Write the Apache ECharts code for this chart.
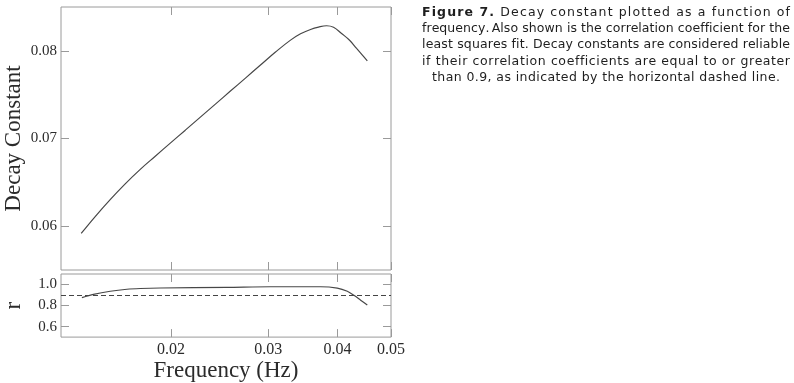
<!DOCTYPE html>
<html>
<head>
<meta charset="utf-8">
<script src="https://cdn.jsdelivr.net/npm/echarts@6/dist/echarts.min.js"></script>
<style>
  html, body { margin: 0; padding: 0; background: #fff; }
  #chart { width: 794px; height: 383px; }
</style>
</head>
<body>
<div id="chart"></div>
<script>
// values (frequency in Hz)
const freqDecay = [0.01376, 0.014586, 0.015526, 0.016528, 0.017598, 0.018732, 0.019942, 0.02123,
  0.022602, 0.024062, 0.025616, 0.027272, 0.029034, 0.030908, 0.032904, 0.034304,
  0.035762, 0.036976, 0.03823, 0.039358, 0.040694, 0.042076, 0.043324, 0.044422, 0.045302];
const decayConst = [0.05917, 0.0611, 0.06303, 0.06483, 0.06648, 0.06798, 0.06947, 0.07095,
  0.07244, 0.07392, 0.07541, 0.07689, 0.07838, 0.07986, 0.08122, 0.08194,
  0.08244, 0.08271, 0.08286, 0.08269, 0.08198, 0.08121, 0.08027, 0.07948, 0.07886];

const freqR = [0.0138, 0.01448, 0.01553, 0.01665, 0.0176, 0.01912, 0.02526, 0.03027, 0.0373,
  0.03997, 0.04168, 0.04284, 0.04406, 0.0453];
const rValues = [0.875, 0.906, 0.936, 0.955, 0.962, 0.967, 0.973, 0.979, 0.979,
  0.966, 0.936, 0.897, 0.851, 0.805];

const freqTicks = [0.02, 0.03, 0.04, 0.05];
const decayTicks = [0.06, 0.07, 0.08];
const rTicks = [0.6, 0.8, 1.0];
const rThreshold = 0.9;

const captionLines = [
  'Figure 7. Decay constant plotted as a function of',
  'frequency. Also shown is the correlation coefficient for the',
  'least squares fit. Decay constants are considered reliable',
  'if their correlation coefficients are equal to or greater',
  'than 0.9, as indicated by the horizontal dashed line.',
];
const captionBold = 'Figure 7.';

const SERIF = '"Liberation Serif", "Times New Roman", serif';
const SANS = '"DejaVu Sans", Verdana, sans-serif';
const FRAME = '#9a9a9a';
const INK = '#2b2b2b';
const CURVE = '#474747';

// the frequency axis is logarithmic: plot log10(f) on a value axis
const toLog = (f) => Math.log10(f);
const xMin = toLog(0.01265);
const xMax = toLog(0.05);
const pairs = (xs, ys) => xs.map((f, i) => [toLog(f), ys[i]]);

const tick = (values) => ({
  show: true,
  inside: true,
  length: 8,
  lineStyle: { color: FRAME, width: 1 },
  customValues: values,
});

const xAxisFor = (gridIndex, position, withLabels) => ({
  type: 'value',
  gridIndex,
  position,
  min: xMin,
  max: xMax,
  axisLine: { show: false },
  splitLine: { show: false },
  axisTick: tick(freqTicks.map(toLog)),
  axisLabel: {
    show: withLabels,
    customValues: freqTicks.map(toLog),
    formatter: (v) => Math.pow(10, v).toFixed(2),
    margin: 5,
    fontFamily: SERIF,
    fontSize: 16,
    color: INK,
  },
});

const yAxisFor = (gridIndex, position, range, ticks, digits, name) => ({
  type: 'value',
  gridIndex,
  position,
  min: range[0],
  max: range[1],
  name: name || '',
  nameLocation: 'middle',
  nameGap: 36,
  nameTextStyle: { fontFamily: SERIF, fontSize: 23, color: INK },
  axisLine: { show: false },
  splitLine: { show: false },
  axisTick: tick(ticks),
  axisLabel: {
    show: position === 'left',
    customValues: ticks,
    formatter: (v) => v.toFixed(digits),
    margin: 4,
    fontFamily: SERIF,
    fontSize: 15,
    color: INK,
  },
});

// caption: every line stretched to its box by spreading the letters
const CAPTION_SIZE = 12.5;
const measure = (() => {
  const ctx = document.createElement('canvas').getContext('2d');
  return (text, bold) => {
    if (!text) return 0;
    ctx.font = (bold ? 'bold ' : '') + CAPTION_SIZE + 'px ' + SANS;
    return ctx.measureText(text).width;
  };
})();

const captionChar = (ch, x, y, bold) => ({
  type: 'text',
  x,
  y,
  silent: true,
  style: {
    text: ch,
    fontFamily: SANS,
    fontSize: CAPTION_SIZE,
    fontWeight: bold ? 'bold' : 'normal',
    fill: '#1e1e1e',
    verticalAlign: 'middle',
    textVerticalAlign: 'middle',
  },
});

const buildCaption = () => {
  const boxes = [[422, 790], [422, 790], [422, 790], [422, 790], [432, 780]];
  const lineGap = 16.3;
  const top = 12.6;
  const els = [];
  captionLines.forEach((line, li) => {
    const y = top + li * lineGap;
    const boldLen = li === 0 ? captionBold.length : 0;
    const prefixWidth = (i) =>
      measure(line.slice(0, Math.min(i, boldLen)), true) +
      (i > boldLen ? measure(line.slice(boldLen, i), false) : 0);
    const natural = prefixWidth(line.length);
    const [left, right] = boxes[li];
    const spacing = (right - left - natural) / (line.length - 1);
    for (let i = 0; i < line.length; i++) {
      if (line[i] === ' ') continue;
      els.push(captionChar(line[i], left + prefixWidth(i) + i * spacing, y, i < boldLen));
    }
  });
  return els;
};

const chart = echarts.init(document.getElementById('chart'), null, { renderer: 'canvas' });

const option = {
  animation: false,
  backgroundColor: '#fff',
  grid: [
    { left: 61, top: 7, width: 330, height: 263, show: true, borderColor: FRAME, borderWidth: 1, backgroundColor: 'transparent' },
    { left: 61, top: 274, width: 330, height: 64, show: true, borderColor: FRAME, borderWidth: 1, backgroundColor: 'transparent' },
  ],
  xAxis: [
    xAxisFor(0, 'bottom', false),
    xAxisFor(0, 'top', false),
    Object.assign(xAxisFor(1, 'bottom', true), {
      name: 'Frequency (Hz)',
      nameLocation: 'middle',
      nameGap: 21,
      nameTextStyle: { fontFamily: SERIF, fontSize: 23, color: INK },
    }),
    xAxisFor(1, 'top', false),
  ],
  yAxis: [
    yAxisFor(0, 'left', [0.055, 0.085], decayTicks, 2, 'Decay Constant'),
    yAxisFor(0, 'right', [0.055, 0.085], decayTicks, 2),
    yAxisFor(1, 'left', [0.5, 1.1], rTicks, 1, 'r'),
    yAxisFor(1, 'right', [0.5, 1.1], rTicks, 1),
  ],
  series: [
    {
      name: 'Decay constant',
      type: 'line',
      xAxisIndex: 0,
      yAxisIndex: 0,
      data: pairs(freqDecay, decayConst),
      smooth: 0.4,
      showSymbol: false,
      lineStyle: { color: CURVE, width: 1.2 },
    },
    {
      name: 'r',
      type: 'line',
      xAxisIndex: 2,
      yAxisIndex: 2,
      data: pairs(freqR, rValues),
      smooth: 0.3,
      showSymbol: false,
      lineStyle: { color: CURVE, width: 1.2 },
      markLine: {
        silent: true,
        symbol: 'none',
        label: { show: false },
        lineStyle: { color: '#444', width: 1, type: [5, 3] },
        data: [{ yAxis: rThreshold }],
      },
    },
  ],
  graphic: buildCaption(),
};

chart.setOption(option);
</script>
</body>
</html>
